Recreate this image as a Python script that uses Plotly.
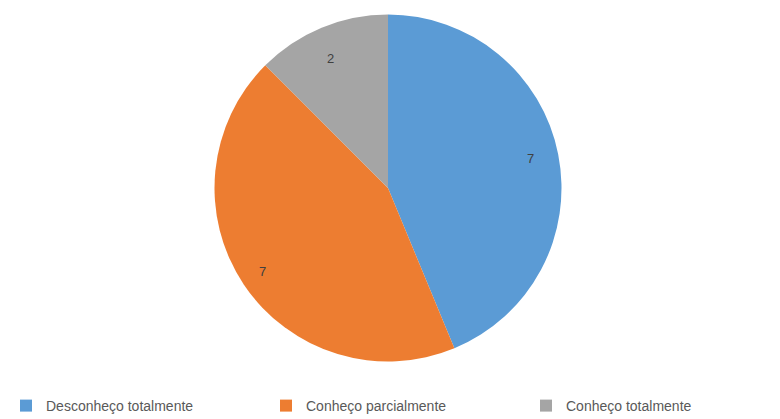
import math
import plotly.graph_objects as go

categories = ["Desconheço totalmente", "Conheço parcialmente", "Conheço totalmente"]
values = [7, 7, 2]
colors = ["#5B9BD5", "#ED7D31", "#A5A5A5"]

W, H = 780, 419
cx, cy, r = 388, 188, 173.5  # pie centre and radius in pixels
label_frac = 0.87             # value labels sit near the rim

fig = go.Figure(
    go.Pie(
        labels=categories,
        values=values,
        sort=False,
        direction="clockwise",
        rotation=0,
        marker=dict(colors=colors, line=dict(width=0)),
        textinfo="none",
        domain=dict(x=[(cx - r) / W, (cx + r) / W], y=[1 - (cy + r) / H, 1 - (cy - r) / H]),
        hoverinfo="label+value+percent",
    )
)

total = sum(values)
start = 0.0
for v in values:
    mid = math.radians((start + v / 2) / total * 360)
    px = cx + label_frac * r * math.sin(mid)
    py = cy - label_frac * r * math.cos(mid)
    fig.add_annotation(
        x=px / W, y=1 - py / H, xref="paper", yref="paper",
        text=str(v), showarrow=False,
        font=dict(family="Liberation Sans", size=13, color="#404040"),
    )
    start += v

fig.update_layout(
    width=W,
    height=H,
    margin=dict(l=0, r=0, t=0, b=0, autoexpand=False),
    paper_bgcolor="white",
    plot_bgcolor="white",
    showlegend=True,
    legend=dict(
        orientation="h",
        x=6 / W,
        xanchor="left",
        y=1 - 406 / H,
        yanchor="middle",
        entrywidth=215,
        itemwidth=30,
        font=dict(family="Liberation Sans", size=14, color="#595959"),
    ),
)

fig.write_html("out.html")
